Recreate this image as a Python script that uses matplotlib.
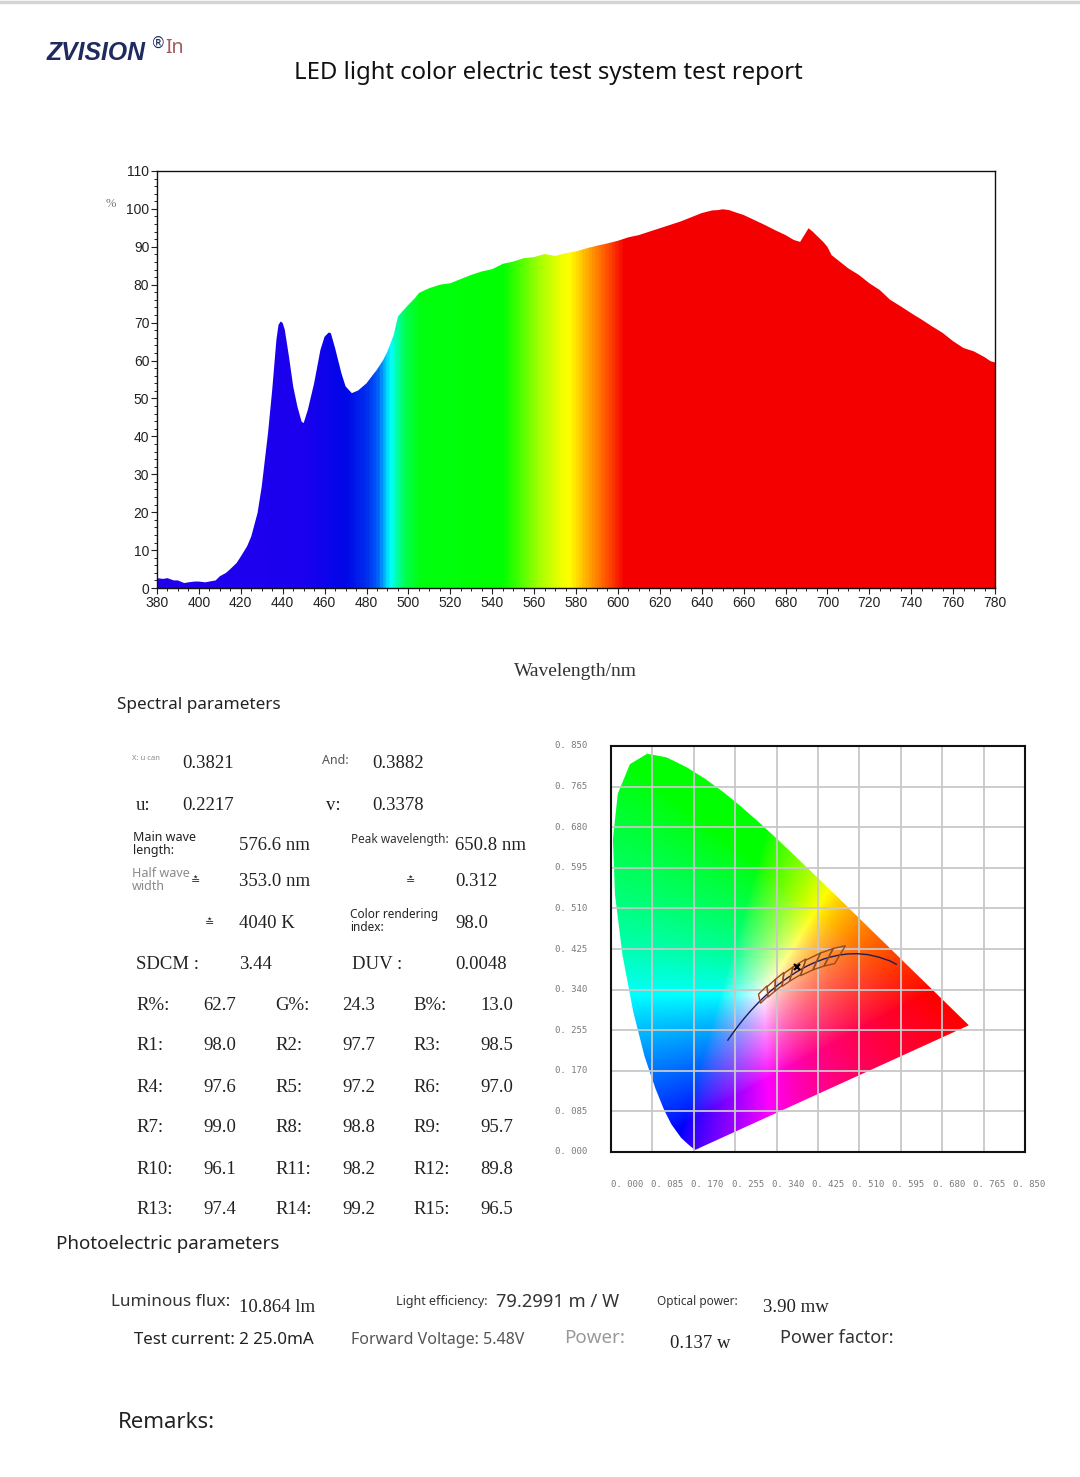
import numpy as np
import matplotlib
matplotlib.use('Agg')
from matplotlib import pyplot as plt
from matplotlib.colors import LinearSegmentedColormap, Normalize
from matplotlib.patches import Polygon
from matplotlib.lines import Line2D
from matplotlib.ticker import MultipleLocator

# ---- spectrum (relative intensity, %) ----
wavelength_nm = [380, 383, 385, 388, 390, 393, 395, 398, 400, 403, 405, 408, 410, 413, 415,
                 418, 420, 423, 425, 428, 430, 433, 435, 437, 438, 439, 440, 441, 443, 445,
                 447, 449, 450, 452, 455, 458, 460, 462, 463, 465, 468, 470, 473, 476, 480,
                 483, 485, 488, 490, 493, 495, 497, 500, 503, 505, 508, 510, 515, 520, 525,
                 530, 535, 540, 545, 550, 555, 560, 565, 570, 575, 580, 585, 590, 595, 600,
                 605, 610, 615, 620, 625, 630, 635, 640, 645, 648, 650, 653, 655, 660, 665,
                 670, 675, 680, 684, 687, 689, 691, 693, 695, 698, 700, 702, 705, 710, 715,
                 720, 725, 730, 735, 740, 745, 750, 755, 760, 765, 770, 775, 778, 780]
intensity = [2.6, 2.4, 2.6, 2.0, 2.0, 1.3, 1.5, 1.7, 1.7, 1.5, 1.7, 2.0, 3.1, 4.0, 5.0,
             6.6, 8.3, 11.0, 13.6, 19.8, 26.8, 40.9, 52.3, 65.5, 69.4, 70.3, 69.9, 68.1, 61.0, 53.2,
             47.9, 43.9, 43.5, 47.0, 54.0, 62.8, 66.3, 67.4, 67.2, 63.3, 56.7, 53.2, 51.4, 52.1, 54.0,
             56.2, 57.6, 60.2, 62.4, 66.8, 71.6, 72.9, 74.7, 76.4, 77.8, 78.6, 79.1, 80.0, 80.4, 81.5,
             82.6, 83.5, 84.1, 85.5, 86.1, 87.0, 87.3, 88.1, 87.6, 88.3, 88.8, 89.6, 90.3, 90.9, 91.6,
             92.5, 93.1, 94.0, 94.9, 95.8, 96.7, 97.8, 98.9, 99.6, 99.7, 99.9, 99.7, 99.3, 98.4, 97.1,
             95.8, 94.4, 93.1, 91.8, 91.3, 93.1, 94.9, 94.0, 92.9, 91.3, 90.0, 87.8, 86.5, 84.3, 82.6,
             80.4, 78.6, 76.0, 74.3, 72.5, 70.8, 69.0, 67.3, 65.1, 63.3, 62.4, 60.9, 59.8, 59.5]

band_nm = [380, 450, 470, 480, 485, 491, 494, 498, 505, 545, 552, 563, 573, 577, 585, 595, 603, 780]
band_colors = ['#2200ee', '#1a00ee', '#0008e8', '#0030f0', '#0060f8', '#00ffff', '#00ffb0',
               '#00ff50', '#00ff10', '#00ff00', '#40ff00', '#a8ff00', '#f0ff00', '#ffff00',
               '#ffb000', '#ff5000', '#f50000', '#f40000']

# ---- CIE 1931 chromaticity ----
locus_x = [0.1741, 0.1733, 0.1714, 0.1644, 0.1566, 0.1440, 0.1241, 0.1096, 0.0913, 0.0687,
           0.0454, 0.0235, 0.0082, 0.0039, 0.0139, 0.0389, 0.0743, 0.1142, 0.1547, 0.1929,
           0.2296, 0.2658, 0.3016, 0.3373, 0.3731, 0.4087, 0.4441, 0.4788, 0.5125, 0.5448,
           0.5752, 0.6029, 0.6270, 0.6658, 0.6915, 0.7079, 0.7190, 0.7260, 0.7300, 0.7334, 0.7347]
locus_y = [0.0050, 0.0048, 0.0051, 0.0109, 0.0177, 0.0297, 0.0578, 0.0868, 0.1327, 0.2007,
           0.2950, 0.4127, 0.5384, 0.6548, 0.7502, 0.8120, 0.8338, 0.8262, 0.8059, 0.7816,
           0.7543, 0.7243, 0.6923, 0.6589, 0.6245, 0.5896, 0.5547, 0.5202, 0.4866, 0.4544,
           0.4242, 0.3965, 0.3725, 0.3340, 0.3083, 0.2920, 0.2809, 0.2740, 0.2700, 0.2666, 0.2653]

planck_x = [0.2399, 0.2501, 0.2565, 0.2637, 0.2719, 0.2807, 0.2869, 0.2952, 0.3064, 0.3135,
            0.3221, 0.3325, 0.3451, 0.3608, 0.3805, 0.4018, 0.4177, 0.4369, 0.4525, 0.4685,
            0.4862, 0.5052, 0.5267, 0.5496, 0.5732, 0.5857]
planck_y = [0.2342, 0.2489, 0.2577, 0.2674, 0.2778, 0.2884, 0.2956, 0.3048, 0.3166, 0.3236,
            0.3318, 0.3411, 0.3516, 0.3635, 0.3768, 0.3891, 0.3965, 0.4041, 0.4086, 0.4123,
            0.4147, 0.4152, 0.4133, 0.4081, 0.3999, 0.3931]

ansi_quads = [
    [(0.4813, 0.4319), (0.4562, 0.4260), (0.4373, 0.3893), (0.4593, 0.3944)],
    [(0.4562, 0.4260), (0.4299, 0.4165), (0.4147, 0.3814), (0.4373, 0.3893)],
    [(0.4299, 0.4165), (0.3996, 0.4015), (0.3889, 0.3690), (0.4147, 0.3814)],
    [(0.4006, 0.4044), (0.3736, 0.3874), (0.3670, 0.3578), (0.3898, 0.3716)],
    [(0.3736, 0.3874), (0.3548, 0.3736), (0.3512, 0.3465), (0.3670, 0.3578)],
    [(0.3551, 0.3760), (0.3376, 0.3616), (0.3366, 0.3369), (0.3515, 0.3487)],
    [(0.3376, 0.3616), (0.3207, 0.3462), (0.3222, 0.3243), (0.3366, 0.3369)],
    [(0.3205, 0.3481), (0.3028, 0.3304), (0.3068, 0.3113), (0.3221, 0.3261)],
]
measured_xy = (0.3821, 0.3882)
cie_ticks = [0.000, 0.085, 0.170, 0.255, 0.340, 0.425, 0.510, 0.595, 0.680, 0.765, 0.850]

# ---- report table ----
cri_labels = ['R%', 'G%', 'B%', 'R1', 'R2', 'R3', 'R4', 'R5', 'R6', 'R7', 'R8', 'R9',
              'R10', 'R11', 'R12', 'R13', 'R14', 'R15']
cri_values = [62.7, 24.3, 13.0, 98.0, 97.7, 98.5, 97.6, 97.2, 97.0, 99.0, 98.8, 95.7,
              96.1, 98.2, 89.8, 97.4, 99.2, 96.5]

W, H = 1080, 1477
SERIF = 'Liberation Serif'
SANS = 'Noto Sans'

fig = plt.figure(figsize=(W / 100, H / 100), dpi=100)


def put(px, py, s, **kw):
    kw.setdefault('va', 'center')
    kw.setdefault('ha', 'left')
    return fig.text(px / W, 1 - py / H, s, **kw)


def box(l, t, r, b):
    return [l / W, 1 - b / H, (r - l) / W, (b - t) / H]


fig.add_artist(Line2D([0, 1], [1 - 1.5 / H] * 2, transform=fig.transFigure,
                      color='#d4d4d4', lw=2.5))

# header
put(47, 53, 'ZVISION', family='Liberation Sans', fontsize=17.8, fontweight='bold',
    style='italic', color='#1f2b5e')
put(151, 43, '®', family='DejaVu Sans', fontsize=10.5, color='#1f2b5e')
put(165, 48, 'In', family=SANS, fontsize=14, color='#a55a5a')
put(548, 73, 'LED light color electric test system test report', family=SANS,
    fontsize=17.2, ha='center', color='#111111')

# ---- spectrum ----
ax = fig.add_axes(box(157, 171, 995, 588))
cmap = LinearSegmentedColormap.from_list(
    'spec', [((w - 380) / 400, c) for w, c in zip(band_nm, band_colors)])
grad = np.linspace(380, 780, 1200)[None, :]
im = ax.imshow(grad, extent=[380, 780, 0, 110], origin='lower', aspect='auto',
               cmap=cmap, norm=Normalize(380, 780), interpolation='bilinear')
outline = Polygon(np.column_stack([[380] + wavelength_nm + [780],
                                   [0] + intensity + [0]]),
                  closed=True, facecolor='none', edgecolor='none')
ax.add_patch(outline)
im.set_clip_path(outline)
ax.set_xlim(380, 780)
ax.set_ylim(0, 110)
ax.set_xticks(range(380, 781, 20))
ax.set_yticks(range(0, 111, 10))
ax.xaxis.set_minor_locator(MultipleLocator(5))
ax.yaxis.set_minor_locator(MultipleLocator(2))
ax.tick_params(which='major', direction='out', length=4, width=0.8, pad=1.5,
               labelsize=10, colors='#222222')
ax.tick_params(which='minor', direction='out', length=2, width=0.6)
for lab in ax.get_xticklabels() + ax.get_yticklabels():
    lab.set_family('Liberation Sans')
for sp in ax.spines.values():
    sp.set_linewidth(1.0)
    sp.set_color('#111111')
put(111, 204, '%', family=SERIF, fontsize=9, color='#777777', ha='center')
put(575, 671, 'Wavelength/nm', family=SERIF, fontsize=14, ha='center', color='#333333')

# ---- CIE diagram ----
cax = fig.add_axes(box(611, 746, 1025, 1152))
gx, gy = np.meshgrid(np.linspace(0, 0.85, 500), np.linspace(0, 0.85, 500))
gy_safe = np.maximum(gy, 1e-4)
X = gx / gy_safe
Z = (1 - gx - gy) / gy_safe
M = np.array([[3.2406, -1.5372, -0.4986],
              [-0.9689, 1.8758, 0.0415],
              [0.0557, -0.2040, 1.0570]])
rgb = np.einsum('ij,jkl->kli', M, np.stack([X, np.ones_like(X), Z]))
rgb = np.clip(rgb, 0, None)
rgb = rgb / np.maximum(rgb.max(axis=2, keepdims=True), 1e-9)
rgb = rgb ** 0.75
cim = cax.imshow(rgb, extent=[0, 0.85, 0, 0.85], origin='lower', aspect='auto',
                 interpolation='bilinear', zorder=1)
locus = Polygon(np.column_stack([locus_x, locus_y]), closed=True,
                facecolor='none', edgecolor='none')
cax.add_patch(locus)
cim.set_clip_path(locus)
cax.set_xlim(0, 0.85)
cax.set_ylim(0, 0.85)
cax.set_xticks(cie_ticks)
cax.set_yticks(cie_ticks)
cax.set_xticklabels([])
cax.set_yticklabels([])
cax.tick_params(length=0)
cax.set_axisbelow(False)
cax.grid(True, color='#c8c8c8', lw=1.3, zorder=2)
for sp in cax.spines.values():
    sp.set_linewidth(1.5)
    sp.set_color('#111111')
    sp.set_zorder(5)
cax.plot(planck_x, planck_y, color='#1c1c5a', lw=1.0, zorder=4)
for q in ansi_quads:
    cax.add_patch(Polygon(q, closed=True, fill=False, edgecolor='#9a4a1a', lw=1.0, zorder=4))
cax.plot(*measured_xy, marker='x', color='k', ms=5, mew=1.6, zorder=5)
for v in cie_ticks:
    cax.text(-0.135, v, f'{v:.3f}'.replace('.', '. '), transform=cax.get_yaxis_transform(),
             ha='left', va='center', family='DejaVu Sans Mono', fontsize=6.5, color='#7a7a7a')
for i, v in enumerate(cie_ticks):
    cax.text(i * 0.0971, -0.079, f'{v:.3f}'.replace('.', '. '), transform=cax.transAxes,
             ha='left', va='center', family='DejaVu Sans Mono', fontsize=6.5, color='#7a7a7a')

# ---- spectral parameters ----
put(117, 705, 'Spectral parameters', family=SANS, fontsize=12.3, color='#222222')
val = dict(family=SERIF, fontsize=13.5, color='#222222')
put(132, 758, 'X: u can', family=SANS, fontsize=5.5, color='#8a8a8a')
put(182, 763, '0.3821', **val)
put(322, 761, 'And:', family=SANS, fontsize=9, color='#555555')
put(372, 763, '0.3882', **val)
put(136, 805, 'u:', **val)
put(182, 805, '0.2217', **val)
put(326, 805, 'v:', **val)
put(372, 805, '0.3378', **val)
put(133, 844, 'Main wave\nlength:', family=SANS, fontsize=9, color='#222222', linespacing=0.95)
put(239, 846, '576.6 nm', **val)
put(351, 840, 'Peak wavelength:', family=SANS, fontsize=8.5, color='#333333')
put(455, 846, '650.8 nm', **val)
put(132, 880, 'Half wave\nwidth', family=SANS, fontsize=9, color='#8a8a8a', linespacing=0.95)
put(191, 881, '≛', family='DejaVu Sans', fontsize=8, color='#333333')
put(239, 881, '353.0 nm', **val)
put(406, 881, '≛', family='DejaVu Sans', fontsize=8, color='#333333')
put(455, 881, '0.312', **val)
put(205, 923, '≛', family='DejaVu Sans', fontsize=8, color='#333333')
put(239, 923, '4040 K', **val)
put(350, 921, 'Color rendering\nindex:', family=SANS, fontsize=8.5, color='#222222',
    linespacing=0.95)
put(455, 923, '98.0', **val)
put(136, 965, 'SDCM :', **val)
put(239, 965, '3.44', **val)
put(352, 965, 'DUV :', **val)
put(455, 965, '0.0048', **val)

row_y = [1005, 1046, 1087, 1128, 1169, 1210]
lab_x = [136, 275, 413]
val_x = [203, 342, 480]
for k, (lab, v) in enumerate(zip(cri_labels, cri_values)):
    r, c = divmod(k, 3)
    put(lab_x[c], row_y[r], lab + ':', **val)
    put(val_x[c], row_y[r], f'{v:.1f}', **val)

# ---- photoelectric parameters ----
put(56, 1244, 'Photoelectric parameters', family=SANS, fontsize=13.5, color='#222222')
put(111, 1302, 'Luminous flux:', family=SANS, fontsize=12.3, color='#333333')
put(239, 1308, '10.864 lm', **val)
put(396, 1301, 'Light efficiency:', family=SANS, fontsize=9, color='#333333')
put(496, 1302, '79.2991 m / W', family=SANS, fontsize=13.2, color='#333333')
put(657, 1301, 'Optical power:', family=SANS, fontsize=8.5, color='#333333')
put(763, 1308, '3.90 mw', **val)
put(134, 1340, 'Test current: 2 25.0mA', family=SANS, fontsize=12.2, color='#222222')
put(351, 1340, 'Forward Voltage: 5.48V', family=SANS, fontsize=11.5, color='#555555')
put(564, 1338, 'Power:', family=SANS, fontsize=13.5, color='#999999')
put(670, 1344, '0.137 w', **val)
put(780, 1338, 'Power factor:', family=SANS, fontsize=13, color='#333333')
put(118, 1422, 'Remarks:', family=SANS, fontsize=16, color='#222222')

fig.savefig('out.png', dpi=100)
